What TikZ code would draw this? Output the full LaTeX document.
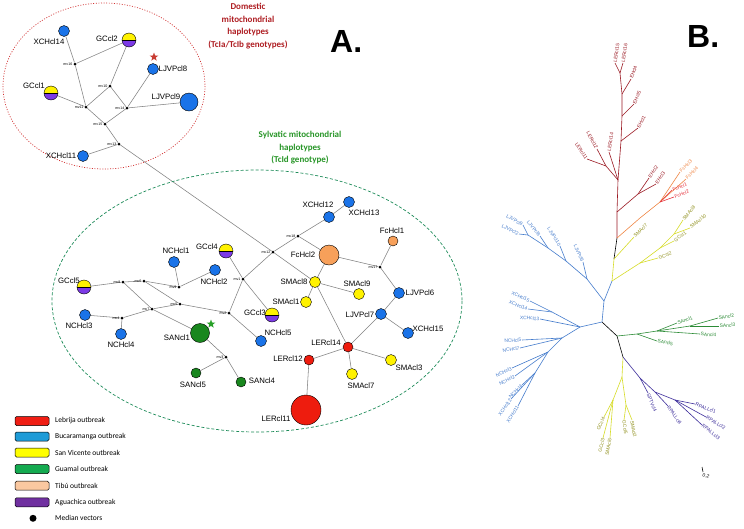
\documentclass[tikz,border=0pt]{standalone}
\usepackage{fontspec}
\setmainfont{Liberation Sans}
\newfontfamily\calib{Carlito}
\usetikzlibrary{shapes.geometric}
\pgfdeclarelayer{bg}
\pgfsetlayers{bg,main}
\definecolor{nBlue}{RGB}{26,115,232}
\definecolor{nYel}{RGB}{255,242,0}
\definecolor{nPur}{RGB}{124,58,230}
\definecolor{nGrn}{RGB}{25,135,30}
\definecolor{nOra}{RGB}{247,160,90}
\definecolor{nRed}{RGB}{238,28,14}
\definecolor{edgeGray}{RGB}{130,130,130}
\definecolor{domRed}{RGB}{175,30,35}
\definecolor{sylGrn}{RGB}{40,150,40}
\definecolor{ellRed}{RGB}{210,50,50}
\definecolor{ellGrn}{RGB}{30,140,90}
\definecolor{lgRed}{RGB}{240,30,20}
\definecolor{lgBlue}{RGB}{30,155,215}
\definecolor{lgYel}{RGB}{255,255,0}
\definecolor{lgGrn}{RGB}{20,170,80}
\definecolor{lgTib}{RGB}{250,200,160}
\definecolor{lgPur}{RGB}{112,48,160}
\definecolor{trRed}{RGB}{155,25,35}
\definecolor{trOra}{RGB}{240,135,70}
\definecolor{trFc}{RGB}{230,50,60}
\definecolor{trYel}{RGB}{215,220,40}
\definecolor{trYelT}{RGB}{145,145,30}
\definecolor{trBlu}{RGB}{70,125,205}
\definecolor{trGrn}{RGB}{45,140,55}
\definecolor{trPur}{RGB}{60,45,155}
\definecolor{starRed}{RGB}{200,60,50}
\definecolor{starGrn}{RGB}{40,160,40}
\tikzset{
  hap/.style 2 args={circle, draw=black, line width=0.4pt, fill=#1, inner sep=0pt, minimum size=#2},
  halfyp/.style={circle, draw=black, line width=0.4pt, inner sep=0pt, minimum size=#1,
    path picture={
      \fill[nYel] (path picture bounding box.north west) rectangle (path picture bounding box.east);
      \fill[nPur] (path picture bounding box.west) rectangle (path picture bounding box.south east);
      \draw[line width=0.4pt] (path picture bounding box.west) -- (path picture bounding box.east);}},
  mvdot/.style={circle, fill=black, inner sep=0pt, minimum size=3pt},
  lab/.style={font=\fontsize{7.8}{9}\selectfont, inner sep=0pt, text=black},
  mvl/.style={font=\fontsize{3.6}{4}\selectfont, inner sep=0pt},
  edge/.style={draw=edgeGray, line width=0.55pt},
  tline/.style={line width=0.6pt},
  tl/.style={font=\fontsize{4.9}{5}\selectfont, inner sep=0.5pt},
  lgbox/.style={draw=black, line width=0.5pt, rounded corners=1.5pt, minimum width=34pt, minimum height=9pt, inner sep=0pt},
  lgtxt/.style={font=\calib\fontsize{7.5}{9}\selectfont, anchor=west, inner sep=0pt},
  starbox/.style={star, star points=5, star point ratio=2.4, inner sep=0pt, minimum size=9pt}
}
\newcommand\hnode[6]{\node[hap={#3}{#4}] (#1) at (#2) {}; \node[lab] (#1L) at (#5) {#6};}
\newcommand\hhnode[5]{\node[halfyp=#3] (#1) at (#2) {}; \node[lab] (#1L) at (#4) {#5};}
\newcommand\mvnode[2]{\node[mvdot] (#1) at (#2) {}; \node[mvl, anchor=east] (#1L) at ([xshift=-0.8pt]#1.west) {#1};}
\newcommand\tleaf[8]{\coordinate (#3) at (#4); \draw[tline,#1] (#2) -- (#3); \node[tl, text=#5, rotate=#6, anchor=#7] (#3L) at (#3) {#8};}
\begin{document}
\begin{tikzpicture}[x=1pt,y=-1pt]
\useasboundingbox (0,0) rectangle (744,528);
\begin{pgfonlayer}{bg}
\fill[white] (0,0) rectangle (744,528);
\end{pgfonlayer}

% ---------- ellipses ----------
\draw[ellRed, line width=0.7pt, dash pattern=on 1pt off 1.6pt] (104,86) ellipse [x radius=101, y radius=83];
\draw[ellGrn, line width=0.7pt, dash pattern=on 3pt off 2pt] (257,301) ellipse [x radius=205, y radius=131];

% ---------- titles ----------
\node[font=\calib\bfseries\fontsize{9}{12.5}\selectfont, text=domRed, align=center, inner sep=0pt] (domT) at (248,26) {Domestic\\mitochondrial\\haplotypes\\(TcIa/TcIb genotypes)};
\node[font=\calib\bfseries\fontsize{9}{12.5}\selectfont, text=sylGrn, align=center, inner sep=0pt] (sylT) at (300,148) {Sylvatic mitochondrial\\haplotypes\\(TcId genotype)};
\node[font=\bfseries\fontsize{32}{32}\selectfont, anchor=base west, inner sep=0pt] (Alab) at (330,52) {A.};
\node[font=\bfseries\fontsize{32}{32}\selectfont, anchor=base west, inner sep=0pt] (Blab) at (687,47) {B.};

% ---------- domestic network ----------
\hnode{x14}{64,31}{nBlue}{11pt}{49,42}{XCHcl14}
\hhnode{gc2}{129,40}{14pt}{107,39}{GCcl2}
\hnode{lj8}{153,69}{nBlue}{11pt}{173,69}{LJVPcl8}
\hnode{lj9}{189,102}{nBlue}{18pt}{166,97}{LJVPcl9}
\hhnode{gc1}{51,93}{14pt}{34,86}{GCcl1}
\hnode{x11}{83,156}{nBlue}{11pt}{61,156}{XCHcl11}
\mvnode{mv16}{75,64}
\mvnode{mv10}{110,86}
\mvnode{mv11}{86,107}
\mvnode{mv14}{127,108}
\mvnode{mv15}{105,124}
\mvnode{mv13}{119,144}
\node[starbox, fill=starRed] (starR) at (154,57) {};

% ---------- sylvatic network ----------
\hhnode{gc4}{226,251}{14pt}{207,247}{GCcl4}
\hnode{nch1}{174,262}{nBlue}{11pt}{176,251}{NCHcl1}
\hnode{nch2}{215,270}{nBlue}{11pt}{214,282}{NCHcl2}
\hhnode{gc5}{84,287}{14pt}{69,281}{GCcl5}
\hnode{nch3}{85,315}{nBlue}{11pt}{79,326}{NCHcl3}
\hnode{nch4}{121,334}{nBlue}{11pt}{121,345}{NCHcl4}
\hnode{san1}{200,333}{nGrn}{19pt}{177,338}{SANcl1}
\hhnode{gc3}{272,315}{14pt}{255,313}{GCcl3}
\hnode{nch5}{261,341}{nBlue}{11pt}{278,333}{NCHcl5}
\hnode{san5}{196,373}{nGrn}{10pt}{193,385}{SANcl5}
\hnode{san4}{241,382}{nGrn}{10pt}{262,381}{SANcl4}
\hnode{ler12}{309,360}{nRed}{10pt}{288,359}{LERcl12}
\hnode{ler14}{348,347}{nRed}{10pt}{326,343}{LERcl14}
\hnode{lj7}{381,314}{nBlue}{11pt}{360,315}{LJVPcl7}
\hnode{x15}{408,333}{nBlue}{11pt}{428,329}{XCHcl15}
\hnode{sma3}{391,360}{nYel}{11pt}{409,368}{SMAcl3}
\hnode{sma7}{352,374}{nYel}{11pt}{361,386}{SMAcl7}
\hnode{ler11}{306,410}{nRed}{30pt}{276,419}{LERcl11}
\hnode{x12}{329,217}{nBlue}{11pt}{318,205}{XCHcl12}
\hnode{x13}{349,202}{nBlue}{11pt}{364,213}{XCHcl13}
\hnode{fc2}{329,255}{nOra}{20pt}{303,255}{FcHcl2}
\hnode{fc1}{393,241}{nOra}{10pt}{392,231}{FcHcl1}
\hnode{sma8}{315,282}{nYel}{11pt}{294,282}{SMAcl8}
\hnode{sma9}{359,294}{nYel}{11pt}{357,284}{SMAcl9}
\hnode{sma1}{306,302}{nYel}{11pt}{286,302}{SMAcl1}
\hnode{lj6}{399,293}{nBlue}{11pt}{420,293}{LJVPcl6}
\mvnode{mv12}{273,252}
\mvnode{mv18}{298,236}
\mvnode{mv17}{380,267}
\mvnode{mv1}{243,279}
\mvnode{mv2}{229,313}
\mvnode{mv3}{226,357}
\mvnode{mv4}{122,318}
\mvnode{mv5}{180,304}
\mvnode{mv6}{144,281}
\mvnode{mv7}{152,309}
\mvnode{mv8}{123,282}
\mvnode{mv9}{179,287}
\node[starbox, fill=starGrn] (starG) at (211,324) {};

\begin{pgfonlayer}{bg}
\foreach \a/\b in {x14/mv16, mv16/gc2, mv16/mv11, gc2/mv10, mv10/mv11, mv10/mv14, gc1/mv11, mv11/mv15,
  mv14/lj8, mv14/lj9, mv14/mv15, mv15/mv13, mv13/x11, mv13/mv12,
  mv12/mv18, mv12/mv1, mv12/sma8, mv18/x12, x12/x13, mv18/fc2, fc2/mv17, fc2/sma8, mv17/fc1, mv17/lj6,
  lj6/lj7, lj7/x15, lj7/ler14, sma8/sma9, sma8/sma1, sma8/ler14, ler14/ler12, ler14/sma7, ler14/sma3,
  ler12/ler11, mv1/gc4, mv1/gc3, mv1/mv2, mv2/mv5, mv2/nch5, mv5/mv7, mv5/mv6, mv7/mv4, mv7/mv8,
  mv7/san1, mv4/nch3, mv4/nch4, mv8/gc5, mv8/mv6, mv6/mv9, mv9/nch1, mv9/nch2, san1/mv3, mv3/san5, mv3/san4}
  \draw[edge] (\a) -- (\b);
\end{pgfonlayer}

% ---------- legend ----------
\node[lgbox, fill=lgRed] (lg1) at (32,421) {};
\node[lgtxt] (lg1t) at (55,421) {Lebrija outbreak};
\node[lgbox, fill=lgBlue] (lg2) at (32,436.5) {};
\node[lgtxt] (lg2t) at (55,436.5) {Bucaramanga outbreak};
\node[lgbox, fill=lgYel] (lg3) at (32,452.5) {};
\node[lgtxt] (lg3t) at (55,452.5) {San Vicente outbreak};
\node[lgbox, fill=lgGrn] (lg4) at (32,469) {};
\node[lgtxt] (lg4t) at (55,469) {Guamal outbreak};
\node[lgbox, fill=lgTib] (lg5) at (32,485.7) {};
\node[lgtxt] (lg5t) at (55,485.7) {Tibú outbreak};
\node[lgbox, fill=lgPur] (lg6) at (32,502.3) {};
\node[lgtxt] (lg6t) at (55,502.3) {Aguachica outbreak};
\node[circle, fill=black, inner sep=0pt, minimum size=7pt] (lg7) at (33,518.3) {};
\node[lgtxt] (lg7t) at (55,518.3) {Median vectors};

% ---------- tree B ----------
\coordinate (tA) at (617,238);
\coordinate (tB) at (614,259);
\coordinate (tC) at (612,281);
\coordinate (tD) at (604,301);
\coordinate (tE) at (602,322);
\coordinate (tF) at (617,336);
\coordinate (tG) at (623,357);
\draw[tline, black] (tA) -- (tB);
\draw[tline, trYel] (tB) -- (tC);
\draw[tline, trBlu] (tC) -- (tD) -- (tE);
\draw[tline, black] (tE) -- (tF) -- (tG);
% red
\coordinate (r1) at (617,212);
\coordinate (r2) at (618,180);
\coordinate (r3) at (621,141);
\coordinate (r4) at (622,116);
\coordinate (r5) at (622,94);
\coordinate (r6) at (620,73);
\coordinate (l1) at (606,166);
\coordinate (e1) at (638,194);
\draw[tline, trRed] (tA) -- (r1) -- (r2) -- (r3) -- (r4) -- (r5) -- (r6);
\draw[tline, trRed] (r2) -- (l1);
\draw[tline, trRed] (r1) -- (e1);
\tleaf{trRed}{r6}{lf1}{615,63}{trRed}{82}{west}{LERcl15}
\tleaf{trRed}{r6}{lf2}{623,63}{trRed}{82}{west}{LERcl16}
\tleaf{trRed}{r5}{lf3}{631,79}{trRed}{70}{west}{EHcl4}
\tleaf{trRed}{r4}{lf4}{634,104}{trRed}{66}{west}{EHcl5}
\tleaf{trRed}{r3}{lf5}{638,128}{trRed}{62}{west}{EHcl1}
\tleaf{trRed}{l1}{lf6}{587,159}{trRed}{-55}{east}{LERcl11}
\tleaf{trRed}{l1}{lf7}{597,149}{trRed}{-62}{east}{LERcl12}
\tleaf{trRed}{r2}{lf8}{609,152}{trRed}{82}{west}{LERcl14}
\tleaf{trRed}{e1}{lf9}{649,178}{trRed}{55}{west}{EHcl2}
\tleaf{trRed}{e1}{lf10}{656,184}{trRed}{55}{west}{EHcl3}
% orange
\coordinate (o1) at (640,218);
\coordinate (o2) at (660,202);
\draw[tline, trOra] (tA) -- (o1) -- (o2);
\tleaf{trOra}{o2}{lf11}{680,172}{trOra}{45}{west}{FcHcl3}
\tleaf{trOra}{o2}{lf12}{686,179}{trOra}{45}{west}{FcHcl4}
\tleaf{trFc}{o2}{lf13}{672,190}{trFc}{22}{west}{FcHcl1}
\tleaf{trFc}{o2}{lf14}{674,197}{trFc}{22}{west}{FcHcl2}
% yellow 1
\coordinate (y2) at (640,263);
\coordinate (y3) at (660,248);
\coordinate (y4) at (674,234);
\draw[tline, trYel] (tC) -- (y2) -- (y3) -- (y4);
\tleaf{trYel}{tB}{lf15}{634,237}{trYelT}{45}{west}{SMAcl7}
\tleaf{trYel}{y2}{lf16}{658,258}{trYelT}{20}{west}{GCcl2}
\tleaf{trYel}{y3}{lf17}{674,241}{trYelT}{35}{west}{GCcl1}
\tleaf{trYel}{y4}{lf18}{683,220}{trYelT}{50}{west}{SMAcl8}
\tleaf{trYel}{y4}{lf19}{690,228}{trYelT}{40}{west}{SMAcl10}
% blue LJVP
\coordinate (b1) at (587,279);
\coordinate (b2) at (566,261);
\coordinate (b3) at (548,248);
\coordinate (b4) at (528,235);
\draw[tline, trBlu] (tD) -- (b1) -- (b2) -- (b3) -- (b4);
\tleaf{trBlu}{b1}{lf20}{583,262}{trBlu}{-65}{east}{LJVPcl6}
\tleaf{trBlu}{b2}{lf21}{560,246}{trBlu}{-58}{east}{LJVPcl10}
\tleaf{trBlu}{b3}{lf22}{540,236}{trBlu}{-50}{east}{LJVPcl8}
\tleaf{trBlu}{b4}{lf23}{523,225}{trBlu}{-30}{east}{LJVPcl9}
\tleaf{trBlu}{b4}{lf24}{519,234}{trBlu}{-25}{east}{LJVPcl2}
% blue XCH / NCH
\coordinate (x1) at (580,327);
\coordinate (x2) at (552,312);
\coordinate (x3) at (562,338);
\coordinate (x4) at (548,352);
\coordinate (x5) at (535,373);
\draw[tline, trBlu] (tE) -- (x1) -- (x2);
\draw[tline, trBlu] (x1) -- (x3) -- (x4) -- (x5);
\tleaf{trBlu}{x2}{lf25}{530,301}{trBlu}{-25}{east}{XCHcl15}
\tleaf{trBlu}{x2}{lf26}{528,309}{trBlu}{-20}{east}{XCHcl14}
\tleaf{trBlu}{x1}{lf27}{540,319}{trBlu}{-5}{east}{XCHcl13}
\tleaf{trBlu}{x3}{lf28}{522,340}{trBlu}{4}{east}{NCHcl5}
\tleaf{trBlu}{x3}{lf29}{520,348}{trBlu}{8}{east}{NCHcl7}
\tleaf{trBlu}{x4}{lf30}{512,368}{trBlu}{25}{east}{NCHcl3}
\tleaf{trBlu}{x4}{lf31}{515,376}{trBlu}{28}{east}{NCHcl2}
\tleaf{trBlu}{x5}{lf32}{522,385}{trBlu}{45}{east}{NCHcl4}
\tleaf{trBlu}{x5}{lf33}{511,399}{trBlu}{55}{east}{XCHcl12}
\tleaf{trBlu}{x5}{lf34}{518,406}{trBlu}{58}{east}{XCHcl11}
% green
\coordinate (g1) at (637,334);
\coordinate (g2) at (657,331);
\coordinate (g3) at (690,326);
\draw[tline, trGrn] (tF) -- (g1) -- (g2) -- (g3);
\tleaf{trGrn}{g2}{lf35}{677,323}{trGrn}{20}{west}{SAncl1}
\tleaf{trGrn}{g3}{lf36}{718,318}{trGrn}{10}{west}{SAncl2}
\tleaf{trGrn}{g3}{lf37}{719,326}{trGrn}{4}{west}{SAncl3}
\tleaf{trGrn}{g2}{lf38}{700,334}{trGrn}{-4}{west}{SAncl4}
\tleaf{trGrn}{g1}{lf39}{657,341}{trGrn}{-10}{west}{SAncl5}
% yellow 2
\coordinate (y5) at (622,377);
\coordinate (y6) at (613,400);
\coordinate (y7) at (626,405);
\draw[tline, trYel] (tG) -- (y5) -- (y6);
\draw[tline, trYel] (y5) -- (y7);
\tleaf{trYel}{y6}{lf40}{604,417}{trYelT}{65}{east}{GCcl4}
\tleaf{trYel}{y6}{lf41}{603,438}{trYelT}{78}{east}{GCcl3}
\tleaf{trYel}{y6}{lf42}{610,438}{trYelT}{80}{east}{SMAcl6}
\tleaf{trYel}{y7}{lf43}{624,420}{trYelT}{-82}{west}{GCcl5}
\tleaf{trYel}{y7}{lf44}{632,420}{trYelT}{-80}{west}{SMAcl2}
% purple
\coordinate (p1) at (640,378);
\coordinate (p2) at (655,392);
\coordinate (p3) at (675,400);
\draw[tline, trPur] (tG) -- (p1) -- (p2) -- (p3);
\tleaf{trPur}{p1}{lf45}{648,393}{trPur}{-68}{west}{SPTVcl4}
\tleaf{trPur}{p2}{lf46}{668,406}{trPur}{-55}{west}{RPALLcl4}
\tleaf{trPur}{p3}{lf47}{695,404}{trPur}{-20}{west}{RPALLcl1}
\tleaf{trPur}{p3}{lf48}{706,417}{trPur}{-30}{west}{RPALLcl2}
\tleaf{trPur}{p3}{lf49}{702,425}{trPur}{-38}{west}{RPALLcl3}
% scale bar
\coordinate (sb1) at (702,467);
\coordinate (sb2) at (703,472);
\draw[tline, black] (sb1) -- (sb2);
\node[tl, rotate=-20] (sbL) at (706,476) {0.2};
\end{tikzpicture}
\end{document}
